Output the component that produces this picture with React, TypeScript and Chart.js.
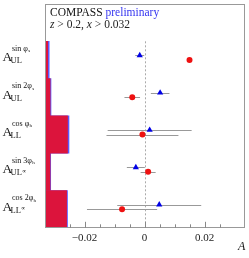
import React, { useEffect, useRef } from "react";
import { Chart, registerables } from "chart.js";
Chart.register(...registerables);

// ---- data ----
const rows = [1, 2, 3, 4, 5];
const funcs = ["sin ", "sin 2", "cos ", "sin 3", "cos 2"];
const phiSub = ["s", "s", "h", "h", "h"];
const asymSub = ["UL", "UL", "LL", "UL", "LL"];
const asymMark = ["", "", "", "\u221D", "\u221D"];

const triX = [-0.0016, 0.0052, 0.0017, -0.0029, 0.0049];
const triErr = [0.0015, 0.0031, 0.014, 0.003, 0.014];
const circX = [0.015, -0.0041, -0.0007, 0.0012, -0.0075];
const circErr = [0.0008, 0.0026, 0.012, 0.0025, 0.0117];
const redBar = [-0.0323, -0.0315, -0.0257, -0.0315, -0.026];
const blueBar = [-0.0318, -0.0312, -0.0252, -0.0313, -0.0257];

const xMin = -0.0332;
const xMax = 0.0335;
const triShift = -0.12;

const SERIF = '"Liberation Serif", "Times New Roman", serif';

const overlay = {
  id: "overlay",
  beforeDatasetsDraw(chart: any) {
    const { ctx, chartArea } = chart;
    const xs = chart.scales.x;
    const ys = chart.scales.y;
    ctx.save();
    // dashed zero line
    ctx.strokeStyle = "#aaaaaa";
    ctx.lineWidth = 1;
    ctx.setLineDash([2, 2]);
    const x0 = Math.round(xs.getPixelForValue(0)) + 0.5;
    ctx.beginPath();
    ctx.moveTo(x0, ys.getPixelForValue(0.5));
    ctx.lineTo(x0, chartArea.bottom);
    ctx.stroke();
    ctx.setLineDash([]);
    // error bars
    ctx.strokeStyle = "#999999";
    const drawErr = (xv: number[], ev: number[], shift: number) => {
      xv.forEach((v, i) => {
        const y = Math.round(ys.getPixelForValue(rows[i] + shift)) + 0.5;
        ctx.beginPath();
        ctx.moveTo(xs.getPixelForValue(v - ev[i]), y);
        ctx.lineTo(xs.getPixelForValue(v + ev[i]), y);
        ctx.stroke();
      });
    };
    drawErr(triX, triErr, triShift);
    drawErr(circX, circErr, 0);
    ctx.restore();
  },
  afterDraw(chart: any) {
    const { ctx, chartArea } = chart;
    const xs = chart.scales.x;
    const ys = chart.scales.y;
    ctx.save();
    // frame
    ctx.strokeStyle = "#999999";
    ctx.lineWidth = 1;
    ctx.strokeRect(
      Math.round(chartArea.left) + 0.5,
      Math.round(chartArea.top) + 0.5,
      Math.round(chartArea.right - chartArea.left) - 1,
      Math.round(chartArea.bottom - chartArea.top) - 1
    );
    // tick marks inside
    ctx.strokeStyle = "#888888";
    xs.ticks.forEach((t: any) => {
      const q = t.value / 0.005;
      if (Math.abs(q - Math.round(q)) > 1e-6) return;
      const q2 = t.value / 0.02;
      const major = Math.abs(q2 - Math.round(q2)) < 1e-6;
      const px = Math.round(xs.getPixelForValue(t.value)) + 0.5;
      ctx.beginPath();
      ctx.moveTo(px, chartArea.bottom);
      ctx.lineTo(px, chartArea.bottom - (major ? 6 : 3.5));
      ctx.stroke();
    });
    // row labels
    ctx.fillStyle = "#111111";
    ctx.textBaseline = "alphabetic";
    rows.forEach((r, i) => {
      const y = ys.getPixelForValue(r) - 3;
      ctx.font = `13.5px ${SERIF}`;
      ctx.fillText("A", 2.5, y + 4.5);
      ctx.font = `8px ${SERIF}`;
      const sup = funcs[i] + "\u03C6";
      ctx.fillText(sup, 12, y - 6);
      const w = ctx.measureText(sup).width;
      ctx.font = `5px ${SERIF}`;
      ctx.fillText(phiSub[i], 12 + w + 0.3, y - 4.5);
      ctx.font = `8.5px ${SERIF}`;
      ctx.fillText(asymSub[i], 10.5, y + 6.5);
      const w2 = ctx.measureText(asymSub[i]).width;
      if (asymMark[i]) {
        ctx.font = `5.5px ${SERIF}`;
        ctx.fillText(asymMark[i], 10.5 + w2 + 0.5, y + 4);
      }
    });
    // header text
    const tx = chartArea.left + 5;
    ctx.font = `11.5px ${SERIF}`;
    ctx.fillStyle = "#111111";
    ctx.fillText("COMPASS", tx, 16);
    const cw = ctx.measureText("COMPASS ").width;
    ctx.fillStyle = "#3535f0";
    ctx.fillText("preliminary", tx + cw, 16);
    ctx.fillStyle = "#222222";
    let x = tx;
    const parts: [string, boolean][] = [
      ["z", true],
      [" > 0.2, ", false],
      ["x", true],
      [" > 0.032", false],
    ];
    parts.forEach(([s, it]) => {
      ctx.font = `${it ? "italic " : ""}11.5px ${SERIF}`;
      ctx.fillText(s, x, 27.5);
      x += ctx.measureText(s).width;
    });
    // axis title
    ctx.font = `italic 12px ${SERIF}`;
    ctx.fillStyle = "#111111";
    ctx.fillText("A", 238, 249.5);
    ctx.restore();
  },
};

export default function App() {
  const ref = useRef<HTMLCanvasElement>(null);
  useEffect(() => {
    if (!ref.current) return;
    const chart = new Chart(ref.current, {
      type: "scatter",
      data: {
        datasets: [
          {
            type: "scatter",
            label: "tri",
            data: triX.map((v, i) => ({ x: v, y: rows[i] + triShift })),
            pointStyle: "triangle",
            pointRadius: 3.6,
            backgroundColor: "#0000e6",
            borderColor: "#0000e6",
            borderWidth: 0,
            order: 0,
          } as any,
          {
            type: "scatter",
            label: "circ",
            data: circX.map((v, i) => ({ x: v, y: rows[i] })),
            pointStyle: "circle",
            pointRadius: 3,
            backgroundColor: "#ee1111",
            borderColor: "#ee1111",
            borderWidth: 0,
            order: 0,
          } as any,
          {
            type: "bar",
            label: "red",
            indexAxis: "y",
            grouped: false,
            data: redBar.map((v, i) => ({ x: [xMin, v], y: rows[i] })),
            backgroundColor: "#dc143c",
            borderWidth: 0,
            barPercentage: 1,
            categoryPercentage: 1,
            order: 1,
          } as any,
          {
            type: "bar",
            label: "blue",
            indexAxis: "y",
            grouped: false,
            data: blueBar.map((v, i) => ({ x: [xMin, v], y: rows[i] })),
            backgroundColor: "#5a5aff",
            borderWidth: 0,
            barPercentage: 1,
            categoryPercentage: 1,
            order: 2,
          } as any,
        ],
      },
      options: {
        animation: false,
        responsive: false,
        events: [],
        layout: { padding: { left: 45, right: 2, top: 1, bottom: 9 } },
        plugins: { legend: { display: false }, tooltip: { enabled: false } },
        scales: {
          x: {
            type: "linear",
            min: xMin,
            max: xMax,
            offset: false,
            grid: { display: false, drawTicks: false },
            border: { display: false },
            ticks: {
              stepSize: 0.005,
              autoSkip: false,
              maxRotation: 0,
              padding: 4,
              color: "#222222",
              font: { family: SERIF, size: 11 },
              callback: (value: any) => {
                const v = Number(value);
                const q = v / 0.02;
                if (Math.abs(q - Math.round(q)) > 1e-6) return "";
                if (Math.round(q) === 0) return "0";
                const s = Math.abs(v).toFixed(2);
                return v < 0 ? "\u2212" + s : s;
              },
            },
          },
          y: {
            type: "linear",
            reverse: true,
            min: -0.5,
            max: 5.5,
            offset: false,
            display: false,
            afterBuildTicks: (s: any) => {
              s.ticks = rows.map((v) => ({ value: v }));
            },
          },
        },
      },
      plugins: [overlay],
    } as any);
    return () => chart.destroy();
  }, []);
  return (
    <div style={{ position: "fixed", left: 0, top: 0, width: 249, height: 258, background: "#fff" }}>
      <canvas ref={ref} width={249} height={258} style={{ width: 249, height: 258, display: "block" }} />
    </div>
  );
}
